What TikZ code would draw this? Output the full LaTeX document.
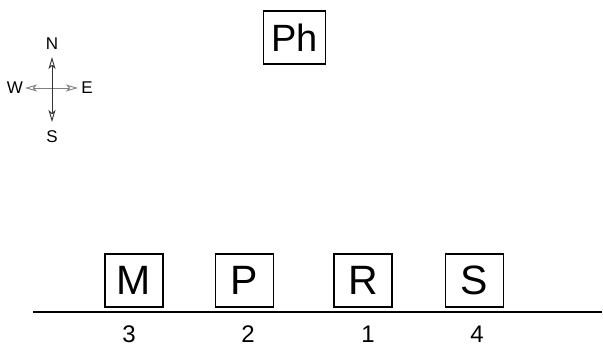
\documentclass[tikz,border=0pt]{standalone}
\usepackage{fontspec}
\setmainfont{Liberation Sans}
\usetikzlibrary{arrows.meta}
\begin{document}
\begin{tikzpicture}[x=1pt,y=-1pt,
  boxnode/.style={draw=black,line width=1.8pt,inner sep=0pt,minimum height=53pt,font=\fontsize{41}{41}\selectfont},
  numlabel/.style={inner sep=0pt,font=\fontsize{24}{24}\selectfont},
  dirlabel/.style={inner sep=0pt,font=\fontsize{17}{17}\selectfont},
  comparrow/.style={{Stealth[open,length=12pt,width=7pt,inset=3pt]}-{Stealth[open,length=12pt,width=7pt,inset=3pt]},line width=0.9pt}]
\useasboundingbox (0,0) rectangle (603,347);
\node[boxnode,minimum width=62pt,font=\fontsize{38}{38}\selectfont] (ph) at (294.5,37.5) {Ph};
\node[boxnode,minimum width=58pt] (m) at (134,280.5) {M};
\node[boxnode,minimum width=58pt] (p) at (244.5,280.5) {P};
\node[boxnode,minimum width=58pt] (r) at (363,280.5) {R};
\node[boxnode,minimum width=58pt] (s) at (474.5,280.5) {S};
\coordinate (lineL) at (33,312.5);
\coordinate (lineR) at (602,312.5);
\draw[line width=2pt] (lineL) -- (lineR);
\node[numlabel] (l3) at (129,334) {3};
\node[numlabel] (l2) at (248,334) {2};
\node[numlabel] (l1) at (368,334) {1};
\node[numlabel] (l4) at (477,334) {4};
% compass
\coordinate (cn) at (52,57);
\coordinate (cs) at (52,122);
\coordinate (cw) at (25,88);
\coordinate (ce) at (78,88);
\draw[comparrow,draw=gray] (cw) -- (ce);
\draw[comparrow,draw=black!80] (cn) -- (cs);
\node[dirlabel] (dn) at (52,44) {N};
\node[dirlabel] (ds) at (52,137) {S};
\node[dirlabel] (dw) at (15,88) {W};
\node[dirlabel] (de) at (87,88) {E};
\end{tikzpicture}
\end{document}
